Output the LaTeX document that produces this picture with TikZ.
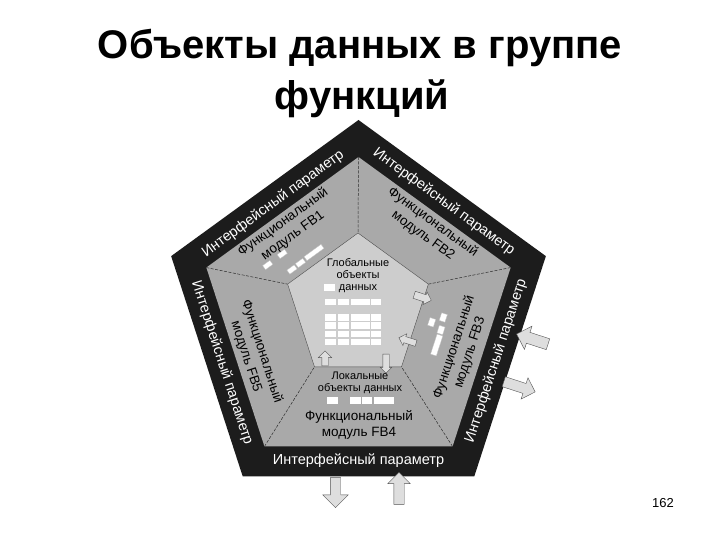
\documentclass[tikz,border=0pt]{standalone}
\usepackage{fontspec}
\setmainfont{Liberation Sans}
\usetikzlibrary{shapes.arrows}
\definecolor{bandgray}{HTML}{1C1C1C}
\definecolor{modgray}{HTML}{A9A9A9}
\definecolor{coregray}{HTML}{CDCDCD}
\definecolor{arrowgray}{HTML}{DEDEDE}

\tikzset{
    headline/.style={font=\bfseries\fontsize{40}{48}\selectfont, anchor=base, inner sep=0pt},
    bandlabel/.style={text=white, font=\fontsize{14.5}{17}\selectfont, inner sep=0pt},
    modlabel/.style={align=center, font=\fontsize{13.5}{16.5}\selectfont, inner sep=0pt},
    datalabel/.style={align=center, font=\fontsize{11}{12}\selectfont, inner sep=0pt},
    divider/.style={draw=gray!35!black, line width=0.5pt, dash pattern=on 3pt off 1.5pt},
    cell/.style={fill=white},
    chip/.style={fill=white, draw=gray!50, line width=0.3pt, inner sep=0pt},
    blockarrow/.style={single arrow, draw=gray!65!black, fill=arrowgray, line width=0.4pt,
        inner xsep=0pt, single arrow head indent=0pt}
}

\begin{document}
\begin{tikzpicture}[x=1pt,y=-1pt]
    \useasboundingbox (0,0) rectangle (720,540);
    \def\cx{358.5}
    \def\cy{317}
    \def\rout{197}
    \def\rin{160}
    \def\rcore{74}

    \foreach \i/\angle in {1/-90, 2/-18, 3/54, 4/126, 5/198} {
        \coordinate (o\i) at ({\cx+\rout*cos(\angle)}, {\cy+\rout*sin(\angle)});
        \coordinate (g\i) at ({\cx+\rin*cos(\angle)}, {\cy+\rin*sin(\angle)});
        \coordinate (c\i) at ({\cx-0.5+\rcore*cos(\angle)}, {\cy-10+\rcore*sin(\angle)});
    }

    % pentagons
    \fill[bandgray] (o1) -- (o2) -- (o3) -- (o4) -- (o5) -- cycle;
    \fill[modgray] (g1) -- (g2) -- (g3) -- (g4) -- (g5) -- cycle;
    \foreach \i in {1,...,5}
        \draw[divider] (g\i) -- (c\i);
    \filldraw[fill=coregray, draw=gray!60!black, line width=0.4pt]
        (c1) -- (c2) -- (c3) -- (c4) -- (c5) -- cycle;

    % data table
    \fill[cell] (324.3,284.3) rectangle (335,290.7);
    \foreach \ya/\yb in {299/305, 314/320.5, 322/328.5, 330.5/336.5, 338.5/345} {
        \foreach \xa/\xb in {325/336, 337.5/349, 350.5/369.5, 371/381} {
            \fill[cell] (\xa,\ya) rectangle (\xb,\yb);
        }
    }
    \foreach \xa/\xb in {327/338, 350/361, 362/372, 374/394}
        \fill[cell] (\xa,397) rectangle (\xb,404);

    % chips FB1, FB3
    \foreach \x/\y/\w in {267.7/265/9, 282.3/254/9, 292/269.5/9, 300.5/263/9, 314/252.5/21}
        \node[chip, minimum width=\w pt, minimum height=5pt, rotate=36] at (\x,\y) {};
    \foreach \x/\y/\w in {431.7/322.3/8, 443.3/317.5/8, 441/330/8, 436.7/345/21}
        \node[chip, minimum width=\w pt, minimum height=6pt, rotate=72] at (\x,\y) {};

    % arrows
    \node[blockarrow, minimum height=15pt, inner ysep=3pt, single arrow head extend=3.5pt, rotate=90] (locup) at (325,360) {};
    \node[blockarrow, minimum height=19pt, inner ysep=3pt, single arrow head extend=2.5pt, rotate=-90] (locdown) at (386,362) {};
    \node[blockarrow, minimum height=18pt, inner ysep=3.5pt, single arrow head extend=3pt, rotate=-18] (globout) at (421,297) {};
    \node[blockarrow, minimum height=18pt, inner ysep=3pt, single arrow head extend=3pt, rotate=162] (globin) at (409,341) {};
    \node[blockarrow, minimum height=33pt, inner ysep=5.5pt, single arrow head extend=6.5pt, rotate=162] (rightin) at (535,340) {};
    \node[blockarrow, minimum height=33pt, inner ysep=5pt, single arrow head extend=6pt, rotate=-18] (rightout) at (517,386) {};
    \node[blockarrow, minimum height=30pt, inner ysep=5pt, single arrow head extend=7.5pt, rotate=-90] (bottomout) at (335.5,490) {};
    \node[blockarrow, minimum height=32pt, inner ysep=5pt, single arrow head extend=6pt, rotate=90] (bottomin) at (399,491) {};

    %labels
    \node[headline] (title1) at (360,59) {Объекты данных в группе};
    \node[headline] (title2) at (362,110) {функций};

    \node[bandlabel, rotate=36] (ifp1) at (273,204) {Интерфейсный параметр};
    \node[bandlabel, rotate=-36] (ifp2) at (444,202) {Интерфейсный параметр};
    \node[bandlabel, rotate=72] (ifp3) at (496,361) {Интерфейсный параметр};
    \node[bandlabel] (ifp4) at (358.5,461) {Интерфейсный параметр};
    \node[bandlabel, rotate=-72] (ifp5) at (222,363) {Интерфейсный параметр};

    \node[modlabel, rotate=36] (fb1) at (288,229) {Функциональный\\модуль FB1};
    \node[modlabel, rotate=-36] (fb2) at (428,229) {Функциональный\\модуль FB2};
    \node[modlabel, rotate=72] (fb3) at (462,350) {Функциональный\\модуль FB3};
    \node[modlabel] (fb4) at (359,425) {Функциональный\\модуль FB4};
    \node[modlabel, rotate=-72] (fb5) at (254,354) {Функциональный\\модуль FB5};

    \node[datalabel] (global) at (358,276) {Глобальные\\объекты\\данных};
    \node[datalabel] (local) at (360,383) {Локальные\\объекты данных};

    \node[font=\fontsize{13}{15}\selectfont, inner sep=0pt] (page) at (663,503) {162};
\end{tikzpicture}
\end{document}
